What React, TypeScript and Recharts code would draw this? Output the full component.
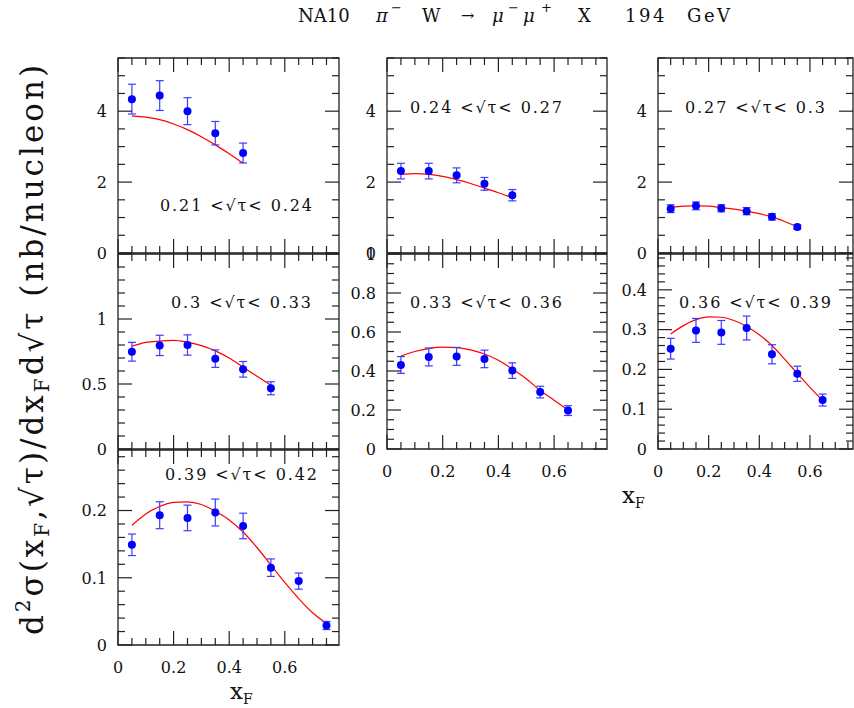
import React from 'react';
import { ComposedChart, Scatter, Line, XAxis, YAxis, ErrorBar, ReferenceArea } from 'recharts';

// ---------- data ----------
const xF = [0.05, 0.15, 0.25, 0.35, 0.45, 0.55, 0.65, 0.75];
const curveX = [0.05, 0.1, 0.15, 0.2, 0.25, 0.3, 0.35, 0.4, 0.45, 0.5, 0.55, 0.6, 0.65, 0.7, 0.75];

const binLabels = [
  '0.21 <√τ< 0.24',
  '0.24 <√τ< 0.27',
  '0.27 <√τ< 0.3',
  '0.3 <√τ< 0.33',
  '0.33 <√τ< 0.36',
  '0.36 <√τ< 0.39',
  '0.39 <√τ< 0.42',
];

const bin1Val = [4.34, 4.44, 4.0, 3.38, 2.82];
const bin1Err = [0.42, 0.42, 0.38, 0.33, 0.28];
const bin1Fit = [3.87, 3.83, 3.76, 3.64, 3.48, 3.28, 3.05, 2.8, 2.53];

const bin2Val = [2.31, 2.31, 2.19, 1.95, 1.63];
const bin2Err = [0.22, 0.22, 0.21, 0.18, 0.16];
const bin2Fit = [2.22, 2.24, 2.22, 2.16, 2.07, 1.96, 1.83, 1.7, 1.56];

const bin3Val = [1.25, 1.33, 1.26, 1.18, 1.02, 0.73];
const bin3Err = [0.11, 0.11, 0.1, 0.1, 0.09, 0.06];
const bin3Fit = [1.29, 1.32, 1.33, 1.32, 1.28, 1.24, 1.18, 1.11, 1.02, 0.89, 0.74];

const bin4Val = [0.748, 0.797, 0.8, 0.695, 0.613, 0.467];
const bin4Err = [0.072, 0.078, 0.078, 0.067, 0.06, 0.05];
const bin4Fit = [0.79, 0.82, 0.83, 0.835, 0.82, 0.795, 0.755, 0.7, 0.63, 0.56, 0.49];

const bin5Val = [0.431, 0.472, 0.475, 0.462, 0.402, 0.292, 0.197];
const bin5Err = [0.043, 0.046, 0.046, 0.045, 0.04, 0.03, 0.025];
const bin5Fit = [0.477, 0.5, 0.515, 0.522, 0.52, 0.508, 0.487, 0.455, 0.41, 0.36, 0.3, 0.25, 0.2];

const bin6Val = [0.252, 0.298, 0.293, 0.304, 0.238, 0.189, 0.123];
const bin6Err = [0.026, 0.03, 0.03, 0.03, 0.024, 0.019, 0.015];
const bin6Fit = [0.289, 0.31, 0.325, 0.332, 0.331, 0.323, 0.308, 0.287, 0.26, 0.226, 0.19, 0.155, 0.122];

const bin7Val = [0.149, 0.193, 0.189, 0.197, 0.177, 0.115, 0.095, 0.029];
const bin7Err = [0.016, 0.02, 0.019, 0.02, 0.019, 0.013, 0.012, 0.006];
const bin7Fit = [0.178, 0.195, 0.206, 0.212, 0.213, 0.209, 0.199, 0.186, 0.168, 0.145, 0.119, 0.093, 0.069, 0.048, 0.032];

const xTickLabels = [0, 0.2, 0.4, 0.6];
const yLabelsRow1 = [0, 2, 4];
const yLabelsA = [0, 0.5, 1];
const yLabelsB = [0, 0.2, 0.4, 0.6, 0.8, 1];
const yLabelsC = [0, 0.1, 0.2, 0.3, 0.4];
const yLabelsD = [0, 0.1, 0.2];

// ---------- helpers ----------
const FONT = '"DejaVu Serif", "Liberation Serif", serif';
const INK = '#222';
const AXW = 60;
const AXH = 40;
const PADT = 12;

const mkPts = (vals: number[], errs: number[]) => vals.map((v, i) => ({ x: xF[i], y: v, err: errs[i] }));
const mkFit = (vals: number[]) => vals.map((v, i) => ({ x: curveX[i], y: v }));
const steps = (step: number, max: number) => {
  const out: number[] = [];
  for (let i = 0; i * step <= max + 1e-9; i++) out.push(Math.round(i * step * 1e6) / 1e6);
  return out;
};
const near = (a: number, b: number) => Math.abs(a - b) < 1e-6;
const isMult = (v: number, s: number) => near(v / s, Math.round(v / s));
const fmt = (v: number) => String(Number(v.toFixed(3)));

type Cfg = {
  left: number; top: number; width: number; height: number;
  xMax: number; yMax: number; yMajor: number; yMinor: number;
  yLabels: number[]; showX: boolean;
  pts: { x: number; y: number; err: number }[];
  fit: { x: number; y: number }[];
};

const panels: Cfg[] = [
  { left: 118, top: 58, width: 221, height: 195, xMax: 0.795, yMax: 5.5, yMajor: 2, yMinor: 0.5, yLabels: yLabelsRow1, showX: false, pts: mkPts(bin1Val, bin1Err), fit: mkFit(bin1Fit) },
  { left: 387, top: 58, width: 220, height: 195, xMax: 0.79, yMax: 5.5, yMajor: 2, yMinor: 0.5, yLabels: yLabelsRow1, showX: false, pts: mkPts(bin2Val, bin2Err), fit: mkFit(bin2Fit) },
  { left: 658, top: 58, width: 195, height: 195, xMax: 0.77, yMax: 5.5, yMajor: 2, yMinor: 0.5, yLabels: yLabelsRow1, showX: false, pts: mkPts(bin3Val, bin3Err), fit: mkFit(bin3Fit) },
  { left: 118, top: 254, width: 221, height: 195, xMax: 0.795, yMax: 1.5, yMajor: 0.5, yMinor: 0.1, yLabels: yLabelsA, showX: false, pts: mkPts(bin4Val, bin4Err), fit: mkFit(bin4Fit) },
  { left: 387, top: 254, width: 220, height: 195, xMax: 0.79, yMax: 1.0, yMajor: 0.2, yMinor: 0.05, yLabels: yLabelsB, showX: true, pts: mkPts(bin5Val, bin5Err), fit: mkFit(bin5Fit) },
  { left: 658, top: 254, width: 195, height: 195, xMax: 0.77, yMax: 0.49, yMajor: 0.1, yMinor: 0.02, yLabels: yLabelsC, showX: true, pts: mkPts(bin6Val, bin6Err), fit: mkFit(bin6Fit) },
  { left: 118, top: 450, width: 221, height: 195, xMax: 0.795, yMax: 0.29, yMajor: 0.1, yMinor: 0.02, yLabels: yLabelsD, showX: true, pts: mkPts(bin7Val, bin7Err), fit: mkFit(bin7Fit) },
];

const labelPos = [
  { x: 160, y: 211, len: 152 },
  { x: 410, y: 113, len: 152 },
  { x: 685, y: 113, len: 140 },
  { x: 171, y: 308, len: 140 },
  { x: 410, y: 308, len: 152 },
  { x: 679, y: 308, len: 152 },
  { x: 165, y: 480, len: 152 },
];

const Dot = (p: any) => <circle cx={p.cx} cy={p.cy} r={4} fill="#0000ff" />;

function Panel({ c }: { c: Cfg }) {
  const plotTop = PADT;
  const xt = steps(0.05, c.xMax);
  const yt = steps(c.yMinor, c.yMax);
  const XTick = (p: any) => {
    const v = p.payload.value;
    const x = p.x;
    const yb = p.y;
    const major = isMult(v, 0.2);
    const len = major ? 14 : 7;
    const lab = c.showX && xTickLabels.some((t) => near(t, v));
    return (
      <g>
        <line x1={x} y1={yb} x2={x} y2={yb - len} stroke={INK} strokeWidth={1.2} />
        <line x1={x} y1={plotTop} x2={x} y2={plotTop + len} stroke={INK} strokeWidth={1.2} />
        {lab && (
          <text x={x} y={yb + 28} textAnchor="middle" fontFamily={FONT} fontSize={16} fill="#111">
            {fmt(v)}
          </text>
        )}
      </g>
    );
  };
  const YTick = (p: any) => {
    const v = p.payload.value;
    const x = p.x;
    const y = p.y;
    const major = isMult(v, c.yMajor);
    const len = major ? 14 : 7;
    const lab = c.yLabels.some((t) => near(t, v));
    return (
      <g>
        <line x1={x} y1={y} x2={x + len} y2={y} stroke={INK} strokeWidth={1.2} />
        <line x1={x + c.width - len} y1={y} x2={x + c.width} y2={y} stroke={INK} strokeWidth={1.2} />
        {lab && (
          <text x={x - 11} y={y} dy="0.36em" textAnchor="end" fontFamily={FONT} fontSize={16} fill="#111">
            {fmt(v)}
          </text>
        )}
      </g>
    );
  };
  return (
    <div style={{ position: 'absolute', left: c.left - AXW, top: c.top - plotTop }}>
      <ComposedChart width={AXW + c.width + 1} height={plotTop + c.height + AXH} margin={{ top: plotTop, right: 1, left: 0, bottom: 0 }}>
        <XAxis dataKey="x" type="number" domain={[0, c.xMax]} ticks={xt} interval={0} tick={XTick} tickLine={false} axisLine={false} tickSize={0} tickMargin={0} height={AXH} allowDataOverflow />
        <YAxis type="number" domain={[0, c.yMax]} ticks={yt} interval={0} tick={YTick} tickLine={false} axisLine={false} tickSize={0} tickMargin={0} width={AXW} allowDataOverflow />
        <ReferenceArea x1={0} x2={c.xMax} y1={0} y2={c.yMax} fill="none" fillOpacity={0} stroke={INK} strokeWidth={1.3} ifOverflow="visible" />
        <Line data={c.fit} dataKey="y" type="monotone" stroke="#ff0000" strokeWidth={1.2} dot={false} activeDot={false} isAnimationActive={false} />
        <Scatter data={c.pts} dataKey="y" fill="#0000ff" shape={Dot} isAnimationActive={false}>
          <ErrorBar dataKey="err" direction="y" width={4} stroke="#3c3cff" strokeWidth={1.2} />
        </Scatter>
      </ComposedChart>
    </div>
  );
}

export default function App() {
  return (
    <div style={{ position: 'absolute', left: 0, top: 0, width: 854, height: 708, background: '#fff', overflow: 'hidden' }}>
      {panels.map((c, i) => (
        <Panel key={i} c={c} />
      ))}
      <svg width={854} height={708} style={{ position: 'absolute', left: 0, top: 0, pointerEvents: 'none' }}>
        <g fontFamily={FONT} fill="#111">
          {/* title */}
          <text x={298} y={22} fontSize={18}>NA10</text>
          <text x={376} y={22} fontSize={18} fontStyle="italic">π</text>
          <text x={391} y={12} fontSize={13}>−</text>
          <text x={422} y={22} fontSize={18}>W</text>
          <text x={461} y={21} fontSize={16}>→</text>
          <text x={492} y={22} fontSize={18} fontStyle="italic">μ</text>
          <text x={508} y={12} fontSize={13}>−</text>
          <text x={523} y={22} fontSize={18} fontStyle="italic">μ</text>
          <text x={541} y={12} fontSize={13}>+</text>
          <text x={578} y={22} fontSize={18}>X</text>
          <text x={625} y={22} fontSize={18} letterSpacing={2.5}>194</text>
          <text x={687} y={22} fontSize={18} letterSpacing={2.5}>GeV</text>

          {/* bin labels */}
          {binLabels.map((t, i) => (
            <text key={i} x={labelPos[i].x} y={labelPos[i].y} fontSize={16} textLength={labelPos[i].len} lengthAdjust="spacing">
              {t}
            </text>
          ))}

          {/* x axis titles */}
          <text x={622} y={503} fontSize={23}>x</text>
          <text x={635} y={508} fontSize={14}>F</text>
          <text x={230} y={699} fontSize={23}>x</text>
          <text x={243} y={704} fontSize={14}>F</text>

          {/* y axis title */}
          <g transform="translate(43,350) rotate(-90)">
            <text x={0} y={0} textAnchor="middle" fontSize={31} textLength={570} lengthAdjust="spacing">
              d<tspan dy={-13} fontSize={20}>2</tspan>
              <tspan dy={13}>σ(x</tspan>
              <tspan dy={6} fontSize={20}>F</tspan>
              <tspan dy={-6}>,√τ)/dx</tspan>
              <tspan dy={6} fontSize={20}>F</tspan>
              <tspan dy={-6}>d√τ (nb/nucleon)</tspan>
            </text>
          </g>
        </g>
      </svg>
    </div>
  );
}
